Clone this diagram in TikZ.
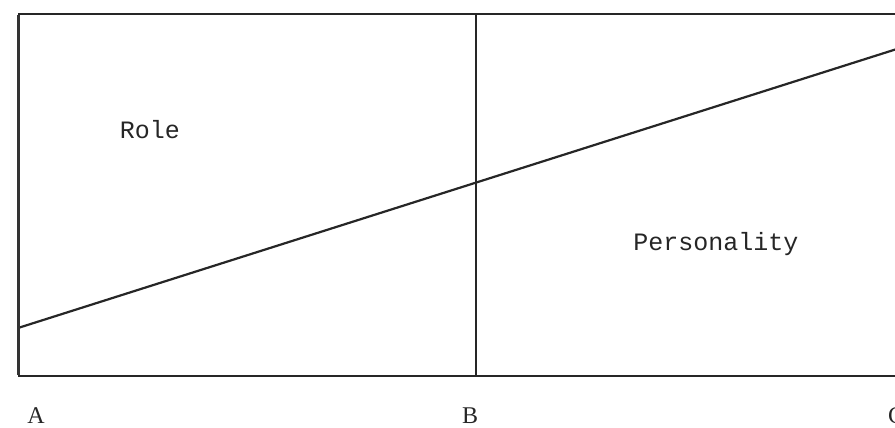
\documentclass[tikz,border=0pt]{standalone}
\usepackage{fontspec}
\setmainfont{Liberation Serif}
\newfontfamily\twfont{Liberation Mono}
\begin{document}
\begin{tikzpicture}[x=1pt,y=-1pt,
  rule/.style={line width=2.2pt, draw=black!85},
  leftrule/.style={line width=3pt, draw=black!80},
  axislbl/.style={font=\fontsize{24}{24}\selectfont, text=black!85, inner sep=0pt, anchor=base},
  twlbl/.style={font=\twfont\fontsize{25}{25}\selectfont, text=black!85, inner sep=0pt, anchor=base}]
\useasboundingbox (0,0) rectangle (895,428);
\begin{scope}
\clip (0,0) rectangle (895,428);
\coordinate (TL) at (18,14);
\coordinate (BL) at (18,376);
\coordinate (TR) at (900,14);
\coordinate (BR) at (900,376);
\coordinate (TM) at (476,14);
\coordinate (BM) at (476,376);
\coordinate (D0) at (18,328);
\coordinate (D1) at (900,48);
\draw[rule] (TL) -- (TR);
\draw[rule] (BL) -- (BR);
\draw[rule] (TM) -- (BM);
\draw[rule] (D0) -- (D1);
\draw[leftrule] ([yshift=-1pt]TL) -- ([yshift=1pt]BL);
\node[twlbl] (role) at (150,139) {Role};
\node[twlbl] (pers) at (716,250) {Personality};
\node[axislbl] (A) at (36,423) {A};
\node[axislbl] (B) at (470,423) {B};
\node[axislbl] (C) at (896,423) {C};
\end{scope}
\end{tikzpicture}
\end{document}
